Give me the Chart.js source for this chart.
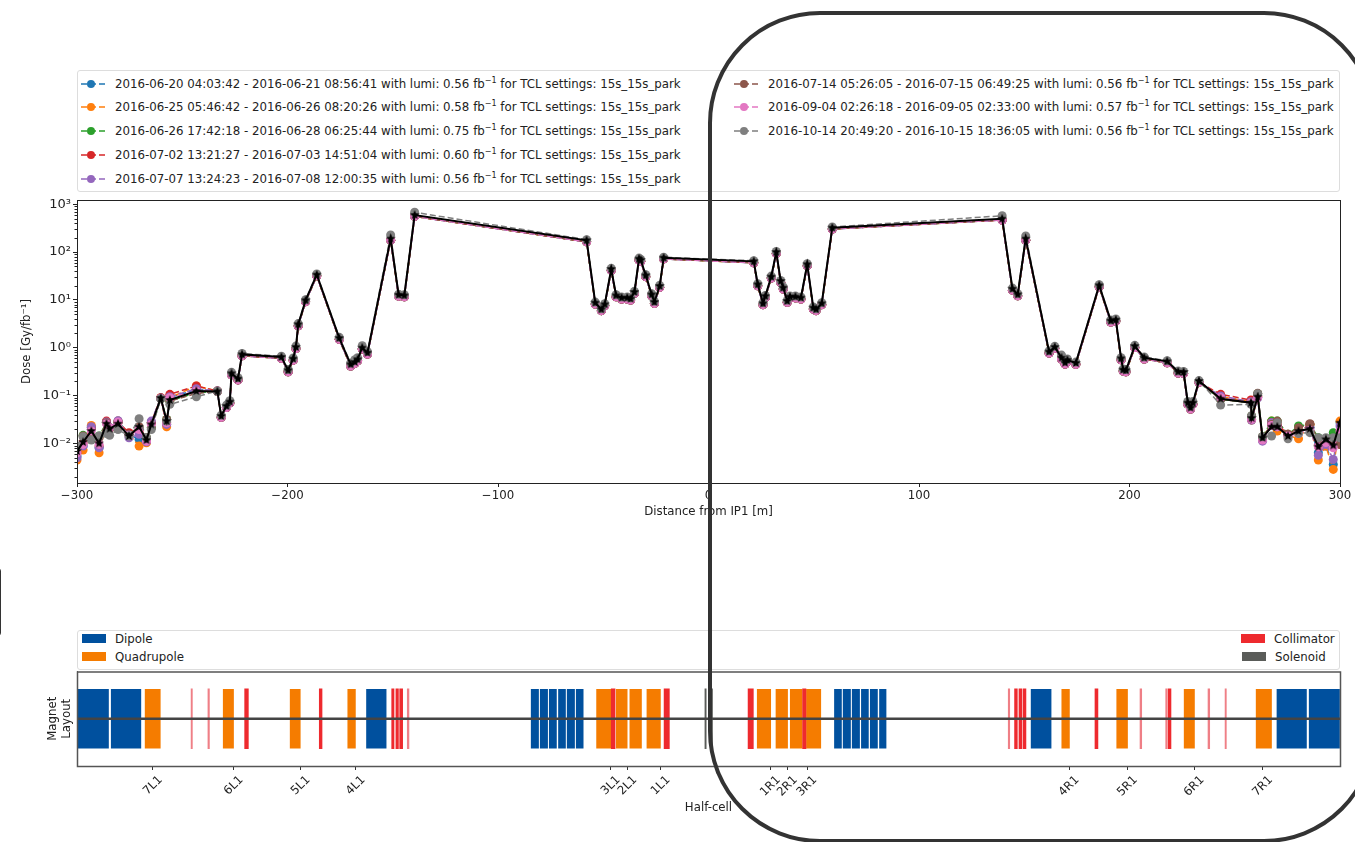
<!DOCTYPE html>
<html>
<head>
<meta charset="utf-8">
<title>Dose vs distance from IP1</title>
<script src="https://cdn.jsdelivr.net/npm/chart.js@4/dist/chart.umd.js"></script>
<style>
  html, body { margin: 0; width: 1355px; height: 842px; overflow: hidden; background: #fff; font-family: 'DejaVu Sans', sans-serif; color: #222; }
  canvas { position: absolute; left: 0; }
  .legend-box { position: absolute; left: 77px; width: 1263px; box-sizing: border-box; border: 1px solid #ddd; border-radius: 3px; background: #fff; }
  .row { position: absolute; font-size: 11.8px; line-height: 14px; white-space: nowrap; }
  .row sup { font-size: 8px; line-height: 0; }
  .row svg { position: absolute; left: -35px; top: 1px; }
  .swatch { position: absolute; width: 24px; height: 9px; top: 2px; }
  #ring { position: absolute; left: 708px; top: 11px; width: 668px; height: 832px; box-sizing: border-box; border: 4px solid #333; border-radius: 112px; pointer-events: none; }
  #stub { position: absolute; left: -10px; top: 568px; width: 11px; height: 68px; box-sizing: border-box; border: 1px solid #333; border-radius: 3px; }
</style>
</head>
<body>
<div class="legend-box" id="runLegend" style="top:70px;height:122px"></div>
<canvas id="doseChart" width="1355" height="335" style="top:190px"></canvas>
<div class="legend-box" id="magnetLegend" style="top:630px;height:40px"></div>
<canvas id="magnetChart" width="1355" height="160" style="top:660px"></canvas>
<div id="ring"></div>
<div id="stub"></div>

<script>
// ---- run labels ----
const runStarts = ['2016-06-20 04:03:42', '2016-06-25 05:46:42', '2016-06-26 17:42:18', '2016-07-02 13:21:27', '2016-07-07 13:24:23', '2016-07-14 05:26:05', '2016-09-04 02:26:18', '2016-10-14 20:49:20'];
const runEnds   = ['2016-06-21 08:56:41', '2016-06-26 08:20:26', '2016-06-28 06:25:44', '2016-07-03 14:51:04', '2016-07-08 12:00:35', '2016-07-15 06:49:25', '2016-09-05 02:33:00', '2016-10-15 18:36:05'];
const runLumi   = ['0.56', '0.58', '0.75', '0.60', '0.56', '0.56', '0.57', '0.56'];
const runColors = ['#1f77b4', '#ff7f0e', '#2ca02c', '#d62728', '#9467bd', '#8c564b', '#e377c2', '#7f7f7f'];

// ---- dose profile, x in metres from IP1 ----
const distance = [
  -300, -297.1, -293.2, -289.5, -286, -284.5, -280.5, -275.3, -270.5, -267, -264.7, -260.2, -257.4, -255.9, -243.3, -233.3,
  -231.5, -229, -227.4, -226.6, -223.5, -221.6, -202.9, -199.7, -197.3, -196, -194.9, -191.4, -186.1, -175.4, -170, -168, -166.7, -164.5, -162, -151, -147.2, -144.5, -139.6,
  -57.9, -53.8, -50.9, -49.3, -46.2, -43.9, -41.3, -38.6, -37, -35.2, -33, -32.2, -29.8, -27, -25.7, -23.2, -21.3,
  21.5, 23.4, 25.9, 27, 29.8, 32.2, 34.3, 35.5, 37.4, 38.7, 41.3, 43.9, 46.9, 49.8, 51.1, 53.8, 58.8,
  139.5, 144.4, 146.9, 150.7, 161.8, 164.5, 167.7, 169.4, 170.5, 174.5, 185.6, 191.1, 193.5, 196, 197, 198.3, 202.5, 207, 217.9, 223.1, 225.7, 227.7, 229, 230.1, 233,
  243.3, 257.7, 258, 260.9, 263.2, 267.5, 270.2, 275.3, 280.3, 285.7, 289.7, 293.3, 296.8, 300
];

// the runs only really differ in the two tails
const leftBlue   = [.00542, .00877, .0212, .00809, .0270, .0212, .0292, .0154, .0121, .0108, .0270, .0885, .0249, .0900, .134, .124];
const leftOrange = [.00447, .00723, .0237, .00635, .0283, .0202, .0292, .0154, .00877, .0103, .0270, .0900, .0222, .0900, .158, .124];
const leftGreen  = [.00809, .0147, .0131, .0142, .0270, .0209, .0279, .0154, .0209, .0131, .0212, .0857, .0317, .0766, .115, .122];
const leftRed    = [.00635, .0103, .0212, .00877, .0292, .0212, .0279, .0167, .0181, .0111, .0270, .0900, .0270, .106, .158, .124];
const leftPurple = [.00500, .00877, .0222, .00809, .0279, .0212, .0297, .0131, .0154, .0108, .0292, .0885, .0249, .0944, .139, .124];
const leftBrown  = [.00809, .0142, .0131, .0131, .0270, .0202, .0270, .0154, .0222, .0131, .0212, .0857, .0317, .0766, .111, .122];
const leftPink   = [.00635, .00950, .0181, .00950, .0257, .0209, .0279, .0147, .0195, .0111, .0249, .0870, .0270, .0900, .124, .124];
const leftGray   = [.00877, .0137, .0117, .0142, .0161, .0147, .0195, .0142, .0327, .0131, .0195, .0857, .0292, .0653, .0944, .124];
const leftMean   = [.00689, .0106, .0181, .00997, .0257, .0202, .0257, .0142, .0222, .0117, .0249, .0885, .0292, .0804, .124, .122];

const rightBlue   = [.0944, .0742, .0307, .0900, .0117, .0270, .0212, .0147, .0167, .0212, .00635, .00877, .00362, .0270];
const rightOrange = [.0944, .0742, .0307, .0944, .0117, .0292, .0181, .0147, .0125, .0249, .00447, .00877, .00285, .0292];
const rightGreen  = [.0830, .0706, .0372, .109, .0137, .0292, .0292, .0154, .0230, .0249, .0131, .0121, .0167, .0167];
const rightRed    = [.106, .0804, .0317, .0944, .0121, .0270, .0249, .0154, .0172, .0249, .00877, .0103, .00877, .00950];
const rightPurple = [.0975, .0742, .0307, .0900, .0111, .0270, .0222, .0142, .0167, .0212, .00560, .00950, .00461, .0230];
const rightBrown  = [.0830, .0706, .0372, .111, .0137, .0249, .0292, .0154, .0212, .0257, .0121, .0121, .0103, .00950];
const rightPink   = [.0900, .0706, .0317, .0900, .0117, .0237, .0222, .0142, .0161, .0188, .00849, .0104, .00809, .0181];
const rightGray   = [.0632, .0653, .0372, .109, .0137, .0142, .0270, .0125, .0161, .0167, .0131, .0131, .0131, .0131];
const rightMean   = [.0857, .0706, .0338, .0944, .0131, .0222, .0222, .0142, .0181, .0202, .00849, .0121, .00906, .027];

const midMean = [
  .0372, .0602, .0742, .290, .225, .725, .638, .336, .589, 1.03, 3.08, 9.78, 33.7, 1.59, .448, .501, .570, 1.0, .786, 191, 12.8, 12.4, 596,
  176, 8.74, 6.34, 8.07, 44.2, 12.4, 11.1, 11.1, 10.6, 14.6, 72.8, 68.2, 32.6, 13.0, 9.02, 19.5, 76.4,
  64.0, 21.1, 8.46, 12.0, 30.6, 100, 24.8, 18.0, 9.47, 11.7, 11.7, 11.1, 55.4, 6.87, 6.34, 8.46, 324,
  500, 17.1, 13.0, 191, .825, 1.03, .618, .485, .552, .478, 20.1, 3.67, 3.85, .598, .347, .336, 1.08, .618, .518, .315, .310, .0706, .0556, .0706, .201
];
const midGray = [
  .0387, .0630, .0780, .305, .235, .755, .665, .350, .610, 1.08, 3.20, 10.1, 35.0, 1.65, .480, .560, .620, 1.10, .830, 228, 13.2, 12.9, 680,
  182, 9.00, 6.55, 8.35, 45.8, 12.8, 11.5, 11.5, 11.0, 15.1, 75.0, 70.5, 33.8, 13.5, 9.35, 20.2, 78.0,
  66.0, 21.8, 8.75, 12.4, 31.5, 103, 25.6, 18.6, 9.80, 12.1, 12.1, 11.5, 57.0, 7.10, 6.55, 8.75, 335,
  575, 17.7, 13.5, 218, .860, 1.07, .700, .530, .580, .500, 20.8, 3.80, 4.00, .620, .360, .350, 1.12, .640, .535, .325, .320, .0750, .0600, .0750, .205
];
const midColored = [
  .0350, .0560, .0700, .272, .212, .680, .600, .315, .550, .960, 2.88, 9.20, 32.0, 1.50, .415, .470, .535, .945, .735, 178, 12.0, 11.6, 560,
  164, 8.20, 5.95, 7.60, 41.5, 11.6, 10.4, 10.4, 9.95, 13.7, 68.5, 64.0, 30.6, 12.2, 8.45, 18.3, 72.0,
  60.0, 19.8, 7.95, 11.2, 28.8, 94.0, 23.3, 16.9, 8.90, 11.0, 11.0, 10.4, 52.0, 6.45, 5.95, 7.95, 305,
  470, 16.0, 12.2, 178, .775, .970, .580, .455, .520, .450, 18.9, 3.45, 3.60, .560, .325, .315, 1.01, .580, .485, .296, .290, .0660, .0520, .0660, .189
];

const runLeft  = [leftBlue, leftOrange, leftGreen, leftRed, leftPurple, leftBrown, leftPink, leftGray];
const runRight = [rightBlue, rightOrange, rightGreen, rightRed, rightPurple, rightBrown, rightPink, rightGray];

const doseTicks = [0.01, 0.1, 1, 10, 100, 1000];
const doseTickLabels = ['10⁻²', '10⁻¹', '10⁰', '10¹', '10²', '10³'];

// ---- magnet layout, [start, end] in metres ----
const dipoles = [
  [-300, -284.8], [-284, -269.4], [-162.7, -152.9],
  [-84.5, -80.5], [-80.2, -76.2], [-75.9, -72], [-71.5, -67.7], [-67.4, -63.4], [-63.1, -59.3],
  [59.6, 63.4], [63.7, 67.7], [68, 72], [72.4, 76.2], [76.6, 80.5], [81, 84.6],
  [153, 163], [269.8, 284.3], [285.1, 300]
];
const quadrupoles = [
  [-267.9, -260.2], [-230.8, -225.4], [-199, -193.7], [-171.6, -167.5],
  [-53.4, -46], [-44.1, -38.4], [-37.6, -31.6], [-29.5, -22.6],
  [22.9, 29.8], [31.8, 37.8], [38.6, 44.7], [46.3, 53.6],
  [167.6, 171.7], [193.7, 199.3], [225.7, 231.1], [259.9, 267.7]
];
const collimators = [
  [-220.35, -218.6], [-184.9, -183.6],
  [-150.5, -149.4], [-148.5, -147.3], [-146.7, -145.3],
  [-46.2, -44.4], [-21.1, -18.6], [18.8, 21.3], [44.7, 46.3],
  [145.4, 146.7], [147.5, 148.8], [149.4, 150.8],
  [183.6, 185], [218.3, 219.7]
];
// the very short jaws come out pale in the picture
const thinCollimators = [
  [-245.8, -245.2], [-237.8, -237.1], [-143.1, -142.3], [142.4, 143.1],
  [205, 205.8], [217.2, 217.8], [237.3, 238.1], [245.4, 246]
];
const solenoids = [[-1.7, -1.1], [1.1, 1.9]];
const beamLine = [[-300, 300]];

const halfCellTicks = [-264.1, -225.7, -193.9, -167.8, -46.6, -38.6, -22.9, 29.5, 37.6, 46.9, 171.4, 199.1, 230.8, 263.4];
const halfCellLabels = ['7L1', '6L1', '5L1', '4L1', '3L1', '2L1', '1L1', '1R1', '2R1', '3R1', '4R1', '5R1', '6R1', '7R1'];

const magnetColors = { dipole: '#00509e', quadrupole: '#f57c00', collimator: '#ee2a2e', solenoid: '#5a5c59' };

// ---- legends ----
function markerSvg(color) {
  return `<svg width="26" height="12"><line x1="1" y1="6" x2="25" y2="6" stroke="${color}" stroke-width="1.5" stroke-dasharray="6 3"/><circle cx="11" cy="6" r="4" fill="${color}"/></svg>`;
}
const runLegend = document.getElementById('runLegend');
const rowTops = [6, 29, 53, 77, 101];
runStarts.forEach((start, i) => {
  const el = document.createElement('div');
  el.className = 'row';
  const col = i < 5 ? 37 : 690;
  el.style.left = col + 'px';
  el.style.top = rowTops[i < 5 ? i : i - 5] + 'px';
  el.innerHTML = markerSvg(runColors[i]) + `${start} - ${runEnds[i]} with lumi: ${runLumi[i]} fb<sup>−1</sup> for TCL settings: 15s_15s_park`;
  runLegend.appendChild(el);
});

const magnetLegend = document.getElementById('magnetLegend');
[['Dipole', magnetColors.dipole, 37, 1], ['Quadrupole', magnetColors.quadrupole, 37, 19],
 ['Collimator', magnetColors.collimator, 1196, 1], ['Solenoid', magnetColors.solenoid, 1197, 19]].forEach(([name, color, left, top]) => {
  const el = document.createElement('div');
  el.className = 'row';
  el.style.left = left + 'px';
  el.style.top = top + 'px';
  el.innerHTML = `<span class="swatch" style="left:-33px;background:${color}"></span>${name}`;
  magnetLegend.appendChild(el);
});

// ---- charts ----
Chart.defaults.font.family = "'DejaVu Sans', sans-serif";
Chart.defaults.font.size = 11.75;
Chart.defaults.color = '#222';
Chart.defaults.animation = false;

function makeStar(size) {
  const c = document.createElement('canvas');
  c.width = c.height = size;
  const g = c.getContext('2d');
  g.translate(size / 2, size / 2);
  g.beginPath();
  for (let i = 0; i < 10; i++) {
    const r = i % 2 ? size * 0.22 : size * 0.5;
    const a = -Math.PI / 2 + i * Math.PI / 5;
    g.lineTo(r * Math.cos(a), r * Math.sin(a));
  }
  g.closePath();
  g.fillStyle = '#000';
  g.fill();
  return c;
}

// matplotlib style closed frame around the axes
function framePlugin(color, width) {
  return {
    id: 'frame',
    afterDraw(chart) {
      const { ctx, chartArea: a } = chart;
      ctx.save();
      ctx.strokeStyle = color;
      ctx.lineWidth = width;
      ctx.strokeRect(a.left + 0.5, a.top + 0.5, a.right - a.left, a.bottom - a.top);
      ctx.restore();
    }
  };
}

// short unlabelled ticks between the decades
const minorTickPlugin = {
  id: 'minorTicks',
  afterDraw(chart) {
    const { ctx, scales: { y } } = chart;
    ctx.save();
    ctx.strokeStyle = '#222';
    ctx.lineWidth = 1;
    for (let decade = 0.001; decade < 1000; decade *= 10) {
      for (let m = 2; m < 10; m++) {
        const v = decade * m;
        if (v < y.min || v > y.max) continue;
        const py = Math.round(y.getPixelForValue(v)) + 0.5;
        ctx.beginPath();
        ctx.moveTo(y.right - 2.5, py);
        ctx.lineTo(y.right, py);
        ctx.stroke();
      }
    }
    ctx.restore();
  }
};

const runDatasets = runStarts.map((start, i) => {
  const mid = i === 7 ? midGray : midColored;
  const values = [...runLeft[i], ...mid, ...runRight[i]];
  return {
    label: start,
    data: distance.map((d, k) => ({ x: d, y: values[k] })),
    borderColor: runColors[i],
    backgroundColor: runColors[i],
    borderWidth: 1.5,
    borderDash: [6, 3],
    pointRadius: 4.5,
    pointBorderWidth: 0,
    tension: 0,
    clip: 0,
    order: 9 - i
  };
});
const meanValues = [...leftMean, ...midMean, ...rightMean];
runDatasets.push({
  label: 'mean',
  data: distance.map((d, k) => ({ x: d, y: meanValues[k] })),
  borderColor: '#000',
  backgroundColor: '#000',
  borderWidth: 2,
  pointStyle: makeStar(10),
  tension: 0,
  clip: 0,
  order: 0
});

new Chart(document.getElementById('doseChart'), {
  type: 'line',
  data: { datasets: runDatasets },
  options: {
    responsive: false,
    layout: { padding: { top: 10, right: 15 } },
    plugins: { legend: { display: false }, tooltip: { enabled: false } },
    scales: {
      x: {
        type: 'linear', min: -300, max: 300,
        grid: { drawOnChartArea: false, tickLength: 4, color: '#222' },
        border: { color: '#222' },
        ticks: { stepSize: 100, maxRotation: 0, padding: 2, callback: v => String(v).replace('-', '−') },
        title: { display: true, text: 'Distance from IP1 [m]', padding: { top: 0, bottom: 6 } },
        afterFit(s) { s.height = 42; }
      },
      y: {
        type: 'logarithmic', min: 0.00148, max: 1230,
        grid: { drawOnChartArea: false, tickLength: 4, color: '#222' },
        border: { color: '#222' },
        ticks: { autoSkip: false, padding: 2, font: { size: 13 }, callback: (v, i) => doseTickLabels[i] },
        afterBuildTicks(s) { s.ticks = doseTicks.map(value => ({ value })); },
        title: { display: true, text: 'Dose [Gy/fb⁻¹]', padding: { top: 20, bottom: 0 } },
        afterFit(s) { s.width = 77; }
      }
    }
  },
  plugins: [minorTickPlugin, framePlugin('#222', 1)]
});

function magnetDataset(ranges, color, order, extra) {
  return Object.assign({
    data: ranges.map(r => ({ x: r, y: 'magnets' })),
    backgroundColor: color,
    borderColor: 'rgba(255,255,255,0.55)',
    borderWidth: 0.5,
    borderSkipped: false,
    barThickness: 60,
    grouped: false,
    order
  }, extra);
}

new Chart(document.getElementById('magnetChart'), {
  type: 'bar',
  data: {
    labels: ['magnets'],
    datasets: [
      magnetDataset(beamLine, '#444', 0, { barThickness: 2, borderWidth: 0 }),
      magnetDataset(collimators, magnetColors.collimator, 1, { borderWidth: 0 }),
      magnetDataset(thinCollimators, '#ef7f86', 1, { borderWidth: 0 }),
      magnetDataset(solenoids, magnetColors.solenoid, 2, { borderWidth: 0 }),
      magnetDataset(quadrupoles, magnetColors.quadrupole, 3),
      magnetDataset(dipoles, magnetColors.dipole, 4)
    ]
  },
  options: {
    indexAxis: 'y',
    responsive: false,
    layout: { padding: { top: 11.5, right: 15, bottom: 0 } },
    plugins: { legend: { display: false }, tooltip: { enabled: false } },
    scales: {
      x: {
        type: 'linear', min: -300, max: 300,
        grid: { drawOnChartArea: false, tickLength: 4, color: '#333' },
        border: { color: '#555' },
        ticks: { autoSkip: false, minRotation: 45, maxRotation: 45, labelOffset: 8, padding: 3, callback: (v, i) => halfCellLabels[i] },
        afterBuildTicks(s) { s.ticks = halfCellTicks.map(value => ({ value })); },
        title: { display: true, text: 'Half-cell', padding: { top: 0, bottom: 5 } },
        afterFit(s) { s.height = 54; }
      },
      y: {
        type: 'category',
        grid: { display: false },
        border: { color: '#555' },
        ticks: { display: false },
        title: { display: true, text: ['Magnet', 'Layout'], padding: { top: 46, bottom: 0 } },
        afterFit(s) { s.width = 77; }
      }
    }
  },
  plugins: [framePlugin('#555', 1.5)]
});
</script>
</body>
</html>
